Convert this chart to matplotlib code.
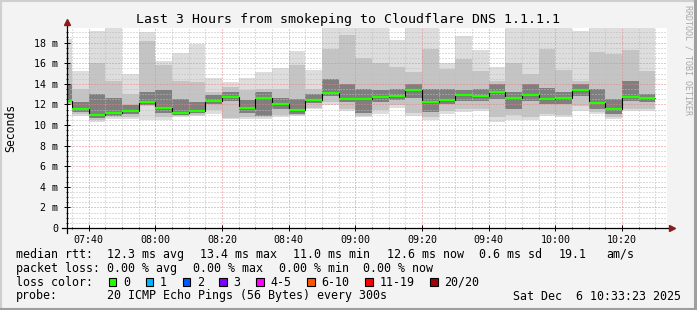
"""
SmokePing style latency graph - last 3 hours to Cloudflare DNS 1.1.1.1
"""
import matplotlib
matplotlib.use("Agg")
import matplotlib.pyplot as plt
from matplotlib.ticker import MultipleLocator, FuncFormatter, FixedLocator
from matplotlib.patches import Rectangle

W, H = 697, 310
MONO = "DejaVu Sans Mono"

# --- data: one slot per 5 minutes, first slot starts 07:30 (ms) ---
slot_start = 7 * 60 + 30      # minutes since midnight
slot_len = 5
view_start, view_end = 453.38, 633.38   # 07:33:23 .. 10:33:23

rtt_max = [18.4, 15.2, 19.1, 19.4, 14.97, 19.0, 16.2, 17.0, 17.9, 14.6, 14.2, 14.6,
           15.1, 15.5, 17.2, 15.3, 19.4, 19.4, 19.4, 19.4, 18.3, 19.4, 19.4, 16.0,
           18.6, 17.3, 15.6, 19.4, 19.4, 19.4, 19.4, 19.1, 19.4, 19.4, 19.4, 19.4]
rtt_hi = [15.9, 13.5, 16.05, 14.3, 13.0, 18.2, 15.8, 14.3, 14.17, 13.2, 13.7, 13.4,
          13.5, 13.5, 15.8, 13.5, 17.4, 18.7, 16.5, 16.0, 15.6, 15.15, 17.4, 15.4,
          16.4, 15.2, 14.3, 16.0, 15.0, 17.4, 15.3, 14.3, 17.1, 16.9, 17.3, 15.2]
rtt_q3 = [14.0, 12.2, 13.0, 12.6, 11.9, 13.2, 13.4, 12.56, 12.2, 12.9, 13.2, 12.4,
          13.2, 12.6, 12.56, 13.0, 14.5, 14.0, 13.5, 13.4, 13.5, 14.0, 13.5, 13.5,
          13.4, 13.5, 14.0, 13.2, 14.0, 13.6, 13.2, 14.0, 13.5, 12.55, 14.3, 13.0]
rtt_median = [12.36, 11.55, 10.97, 11.17, 11.39, 12.23, 11.65, 11.17, 11.39, 12.36, 12.75, 11.65,
              12.6, 12.07, 11.43, 12.43, 13.14, 12.55, 12.55, 12.75, 12.85, 13.4, 12.23, 12.43,
              12.88, 12.85, 13.2, 12.6, 12.88, 12.55, 12.6, 13.37, 12.1, 11.55, 12.75, 12.62]
rtt_q1 = [12.2, 11.3, 10.7, 10.9, 11.1, 11.9, 11.2, 10.95, 11.15, 12.0, 12.3, 11.2,
          10.9, 11.6, 11.1, 12.1, 12.8, 12.2, 11.2, 12.2, 12.4, 12.6, 11.3, 12.0,
          12.3, 12.3, 12.5, 11.6, 12.3, 12.0, 12.0, 12.8, 11.6, 11.1, 12.3, 12.2]
rtt_lo = [12.0, 11.1, 10.5, 10.75, 10.8, 11.8, 10.8, 10.85, 11.0, 11.5, 10.7, 10.8,
          10.75, 11.0, 10.95, 11.7, 12.2, 11.6, 10.9, 11.5, 11.9, 11.2, 10.8, 11.4,
          11.6, 11.6, 10.8, 11.0, 10.8, 11.1, 11.0, 11.8, 11.3, 10.8, 11.6, 11.6]
rtt_min = [11.9, 10.9, 10.3, 10.6, 10.6, 10.45, 10.45, 10.77, 10.9, 11.1, 10.6, 10.6,
           10.6, 10.77, 10.84, 11.52, 11.9, 11.4, 10.77, 11.1, 11.65, 10.9, 10.45, 11.1,
           11.26, 11.4, 10.3, 10.45, 10.45, 10.84, 10.77, 11.4, 11.1, 10.6, 11.4, 11.4]

y_ticks = [0, 2, 4, 6, 8, 10, 12, 14, 16, 18]

stats_rtt = ["median rtt:", "12.3 ms avg", "13.4 ms max", "11.0 ms min",
             "12.6 ms now", "0.6 ms sd", "19.1", "am/s"]
stats_loss = ["packet loss:", "0.00 % avg", "0.00 % max", "0.00 % min", "0.00 % now"]
loss_labels = ["0", "1", "2", "3", "4-5", "6-10", "11-19", "20/20"]
loss_colors = ["#26ff00", "#00b8ff", "#0059ff", "#7e00ff", "#ff00ff", "#ff5500", "#ff0000", "#a10000"]
probe_text = "20 ICMP Echo Pings (56 Bytes) every 300s"
stamp_text = "Sat Dec  6 10:33:23 2025"
title = "Last 3 Hours from smokeping to Cloudflare DNS 1.1.1.1"

n = len(rtt_median)
lefts = [slot_start + slot_len * i for i in range(n)]
edges = lefts + [lefts[-1] + slot_len]


def px(x, y):
    return x / W, 1 - y / H


fig = plt.figure(figsize=(W / 100, H / 100), dpi=100, facecolor="#f3f3f3")

# 3d-ish frame around the canvas
fig.patches.append(Rectangle((0, 0), 1, 1, transform=fig.transFigure, fill=False,
                             edgecolor="#cfcfcf", linewidth=3))
fig.add_artist(plt.Line2D([0, 1], [0.004, 0.004], transform=fig.transFigure, color="#9f9f9f", lw=2.2))
fig.add_artist(plt.Line2D([0.997, 0.997], [0, 1], transform=fig.transFigure, color="#9f9f9f", lw=2.2))

ax = fig.add_axes([66.7 / W, (H - 228) / H, 600 / W, 200 / H])
ax.set_facecolor("white")

# --- smoke: nested bands, darker towards the median ---
bands = [(rtt_min, rtt_max, "#dddddd"),
         (rtt_lo, rtt_hi, "#c4c4c4"),
         (rtt_q1, rtt_q3, "#7f7f7f")]
for lo, hi, c in bands:
    ax.bar(lefts, [h - l for l, h in zip(lo, hi)], bottom=lo, width=slot_len,
           align="edge", color=c, linewidth=0, zorder=1)

ax.stairs(rtt_median, edges, baseline=None, color="black", linewidth=0.8, zorder=4)
ax.hlines(rtt_median, lefts, [l + slot_len for l in lefts], color="#26ff00",
          linewidth=1.6, zorder=5)

ax.set_xlim(view_start, view_end)
ax.set_ylim(0, 19.42)

# grid on top of the smoke, like rrdtool
ax.set_axisbelow(False)
ax.xaxis.set_major_locator(MultipleLocator(20))
ax.xaxis.set_minor_locator(MultipleLocator(5))
ax.yaxis.set_major_locator(FixedLocator(y_ticks))
ax.yaxis.set_minor_locator(MultipleLocator(0.5))
ax.grid(which="minor", color="#bdbdbd", linestyle=(0, (1, 2)), linewidth=0.72)
ax.grid(which="major", color="#f08080", linestyle=(0, (1, 2)), linewidth=0.72)

ax.xaxis.set_major_formatter(FuncFormatter(lambda v, p: f"{int(v // 60):02d}:{int(round(v % 60)):02d}"))
ax.yaxis.set_major_formatter(FuncFormatter(lambda v, p: "0" if v == 0 else f"{v:.0f} m"))
ax.tick_params(axis="both", which="major", direction="inout", length=4, width=0.7,
               labelsize=7.2, colors="black")
ax.tick_params(axis="both", which="minor", direction="inout", length=2, width=0.6)
ax.tick_params(axis="y", pad=4)
ax.tick_params(axis="x", pad=3)
for lab in ax.get_xticklabels() + ax.get_yticklabels():
    lab.set_family(MONO)

for s in ax.spines.values():
    s.set_visible(False)

# axes with arrow heads
ax.plot([-0.008, 1.009], [0, 0], transform=ax.transAxes, color="black", lw=0.9, clip_on=False, zorder=6)
ax.plot([0, 0], [-0.025, 1.03], transform=ax.transAxes, color="black", lw=0.9, clip_on=False, zorder=6)
ax.plot([1.009], [0], transform=ax.transAxes, marker=">", ms=5, color="#8b1a1a", clip_on=False, zorder=7)
ax.plot([0], [1.03], transform=ax.transAxes, marker="^", ms=5, color="#8b1a1a", clip_on=False, zorder=7)

# --- texts ---
fig.text(*px(348, 19), title, family=MONO, fontsize=9.5, ha="center", va="center")
fig.text(*px(10.8, 127.5), "Seconds", family=MONO, fontsize=8.3, rotation=90,
         ha="center", va="center")
fig.text(*px(688, 60), "RRDTOOL / TOBI OETIKER", family=MONO, fontsize=6, rotation=-90,
         ha="center", va="center", color="#a8a8a8")

FS = 8.37
row1_x = [16, 107, 200, 293, 386.7, 479.3, 558.3, 606.7]
for x, s in zip(row1_x, stats_rtt):
    fig.text(*px(x, 254.3), s, family=MONO, fontsize=FS, ha="left", va="center")
row2_x = [16, 107, 193.3, 279.3, 363]
for x, s in zip(row2_x, stats_loss):
    fig.text(*px(x, 268.3), s, family=MONO, fontsize=FS, ha="left", va="center")

fig.text(*px(16, 282.3), "loss color:", family=MONO, fontsize=FS, ha="left", va="center")
cx = 108.7
for lab, col in zip(loss_labels, loss_colors):
    fig.patches.append(Rectangle(px(cx, 286.3), 7.7 / W, 8 / H, transform=fig.transFigure,
                                 facecolor=col, edgecolor="black", linewidth=0.8))
    fig.text(*px(cx + 14.3, 282.3), lab, family=MONO, fontsize=FS, ha="left", va="center")
    cx += 14.3 + 7 * len(lab) + 15.6

fig.text(*px(16, 296), "probe:", family=MONO, fontsize=FS, ha="left", va="center")
fig.text(*px(107, 296), probe_text, family=MONO, fontsize=FS, ha="left", va="center")
fig.text(*px(513.3, 296), stamp_text, family=MONO, fontsize=FS, ha="left", va="center")

fig.savefig("out.png", dpi=100, facecolor=fig.get_facecolor())
